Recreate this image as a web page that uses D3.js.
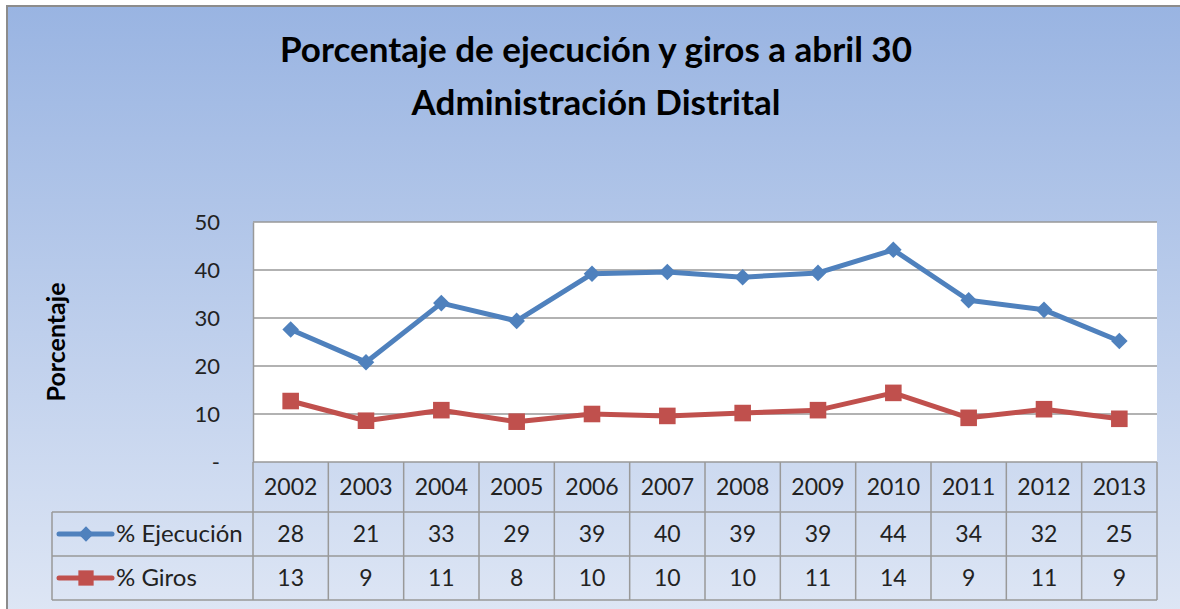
<!DOCTYPE html>
<html>
<head>
<meta charset="utf-8">
<script src="https://cdn.jsdelivr.net/npm/d3@7"></script>
<style>
  body { margin: 0; background: #fff; }
  svg { display: block; font-family: Lato, "Open Sans", sans-serif; }
</style>
</head>
<body>
<svg id="chart" width="1180" height="609"></svg>
<script>
  // data
  var years = ["2002","2003","2004","2005","2006","2007","2008","2009","2010","2011","2012","2013"];
  var ejecucion = [27.6, 20.8, 33.1, 29.4, 39.2, 39.6, 38.5, 39.4, 44.2, 33.7, 31.7, 25.2];
  var giros = [12.7, 8.6, 10.8, 8.4, 10.0, 9.6, 10.2, 10.8, 14.4, 9.2, 11.0, 9.0];
  var yTicks = [0, 10, 20, 30, 40, 50];
  var seriesNames = ["% Ejecución", "% Giros"];

  var blue = "#4f81bd", red = "#c0504d", grid = "#999";

  var svg = d3.select("#chart");

  var defs = svg.append("defs");
  var grad = defs.append("linearGradient").attr("id", "bg")
      .attr("x1", 0).attr("y1", 0).attr("x2", 0).attr("y2", 1);
  grad.append("stop").attr("offset", "0%").attr("stop-color", "#99b4e2");
  grad.append("stop").attr("offset", "100%").attr("stop-color", "#dfe7f5");

  // chart frame
  svg.append("rect")
      .attr("x", 7).attr("y", 6).attr("width", 1190).attr("height", 620)
      .attr("fill", "url(#bg)")
      .attr("stroke", "#8c8c8c").attr("stroke-width", 2);

  // title
  var title = svg.append("text")
      .attr("text-anchor", "middle")
      .attr("font-weight", "bold")
      .attr("font-size", 35)
      .attr("fill", "#000");
  title.append("tspan").attr("x", 596).attr("y", 62).text("Porcentaje de ejecución y giros a abril 30");
  title.append("tspan").attr("x", 596).attr("y", 115).text("Administración Distrital");

  var plot = { left: 253, right: 1157, top: 222, bottom: 462 };

  var x = d3.scaleBand().domain(years).range([plot.left, plot.right]);
  var y = d3.scaleLinear().domain([0, 50]).range([plot.bottom, plot.top]);

  svg.append("rect")
      .attr("x", plot.left).attr("y", plot.top)
      .attr("width", plot.right - plot.left).attr("height", plot.bottom - plot.top)
      .attr("fill", "#fff");

  // gridlines
  svg.append("g").selectAll("line")
    .data(yTicks.filter(function(d) { return d > 0; }))
    .join("line")
      .attr("x1", plot.left).attr("x2", plot.right)
      .attr("y1", function(d) { return y(d); })
      .attr("y2", function(d) { return y(d); })
      .attr("stroke", grid).attr("stroke-width", 1.5);

  // value axis
  var yAxis = svg.append("g")
      .attr("transform", "translate(" + plot.left + ",0)")
      .call(d3.axisLeft(y).tickValues(yTicks).tickSize(0).tickPadding(33)
        .tickFormat(function(d) { return d === 0 ? "-" : d; }));
  yAxis.select(".domain").attr("stroke", grid).attr("stroke-width", 1.5);
  yAxis.selectAll("text")
      .attr("font-family", "Lato, sans-serif")
      .attr("font-size", 22).attr("fill", "#222")
      .attr("dy", "0.33em");

  svg.append("text")
      .attr("transform", "translate(65,342) rotate(-90)")
      .attr("text-anchor", "middle")
      .attr("font-weight", "bold").attr("font-size", 25)
      .text("Porcentaje");

  // series
  var series = [
    { name: seriesNames[0], values: ejecucion, color: blue, symbol: d3.symbolDiamond2, size: 175 },
    { name: seriesNames[1], values: giros, color: red, symbol: d3.symbolSquare2, size: 350 }
  ];

  var line = d3.line()
      .x(function(d, i) { return x(years[i]) + x.bandwidth() / 2; })
      .y(function(d) { return y(d); });

  series.forEach(function(s) {
    svg.append("path")
        .attr("d", line(s.values))
        .attr("fill", "none")
        .attr("stroke", s.color).attr("stroke-width", 5)
        .attr("stroke-linejoin", "round");
    svg.append("g").selectAll("path")
      .data(s.values)
      .join("path")
        .attr("transform", function(d, i) {
          return "translate(" + (x(years[i]) + x.bandwidth() / 2) + "," + y(d) + ")";
        })
        .attr("d", d3.symbol().type(s.symbol).size(s.size))
        .attr("fill", s.color);
  });

  // data table
  var rowTop = [462, 512, 556], rowBottom = 600, legendLeft = 52;
  var table = svg.append("g")
      .attr("stroke", grid).attr("stroke-width", 1.5).attr("fill", "none");

  // horizontal lines
  table.append("line").attr("x1", plot.left).attr("x2", plot.right).attr("y1", rowTop[0]).attr("y2", rowTop[0]);
  [rowTop[1], rowTop[2], rowBottom].forEach(function(yy) {
    table.append("line").attr("x1", legendLeft).attr("x2", plot.right).attr("y1", yy).attr("y2", yy);
  });
  // vertical lines
  table.append("line").attr("x1", legendLeft).attr("x2", legendLeft).attr("y1", rowTop[1]).attr("y2", rowBottom);
  years.forEach(function(yr) {
    table.append("line").attr("x1", x(yr)).attr("x2", x(yr)).attr("y1", rowTop[0]).attr("y2", rowBottom);
  });
  table.append("line").attr("x1", plot.right).attr("x2", plot.right).attr("y1", rowTop[0]).attr("y2", rowBottom);

  var cellText = svg.append("g")
      .attr("font-size", 23).attr("fill", "#222").attr("text-anchor", "middle");

  cellText.selectAll("text.year")
    .data(years)
    .join("text")
      .attr("class", "year")
      .attr("x", function(d) { return x(d) + x.bandwidth() / 2; })
      .attr("y", (rowTop[0] + rowTop[1]) / 2)
      .attr("dy", "0.35em")
      .text(function(d) { return d; });

  series.forEach(function(s, r) {
    var cy = (rowTop[r + 1] + (r === 0 ? rowTop[2] : rowBottom)) / 2;
    cellText.append("g").selectAll("text")
      .data(s.values)
      .join("text")
        .attr("x", function(d, i) { return x(years[i]) + x.bandwidth() / 2; })
        .attr("y", cy)
        .attr("dy", "0.35em")
        .text(function(d) { return Math.round(d); });

    // legend key
    svg.append("line")
        .attr("x1", 59).attr("x2", 112).attr("y1", cy).attr("y2", cy)
        .attr("stroke", s.color).attr("stroke-width", 5).attr("stroke-linecap", "round");
    svg.append("path")
        .attr("transform", "translate(86," + cy + ")")
        .attr("d", d3.symbol().type(s.symbol).size(s.size * 0.85))
        .attr("fill", s.color);
    svg.append("text")
        .attr("x", 116).attr("y", cy).attr("dy", "0.35em")
        .attr("font-size", 24).attr("fill", "#222")
        .text(s.name);
  });
</script>
</body>
</html>
